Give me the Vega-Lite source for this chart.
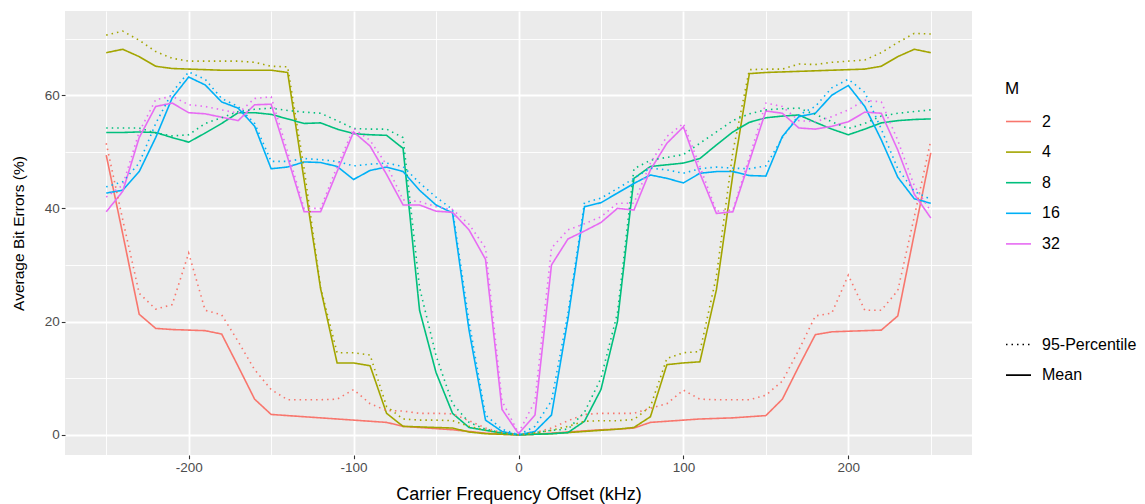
{
  "$schema": "https://vega.github.io/schema/vega-lite/v6.json",
  "width": 907,
  "height": 444,
  "autosize": {"type": "none"},
  "padding": {"left": 65, "top": 11, "right": 173, "bottom": 49},
  "background": "white",
  "data": {"values": [
    {"f":-250,"s":"Mean","2":49.4,"4":67.5,"8":53.4,"16":42.7,"32":39.4},
    {"f":-240,"s":"Mean","2":35.5,"4":68.1,"8":53.4,"16":43.2,"32":43.0},
    {"f":-230,"s":"Mean","2":21.3,"4":66.8,"8":53.5,"16":46.5,"32":52.5},
    {"f":-220,"s":"Mean","2":18.8,"4":65.1,"8":53.4,"16":52.5,"32":58.0},
    {"f":-210,"s":"Mean","2":18.6,"4":64.7,"8":52.5,"16":59.5,"32":58.6},
    {"f":-200,"s":"Mean","2":18.5,"4":64.6,"8":51.7,"16":63.2,"32":56.9},
    {"f":-190,"s":"Mean","2":18.4,"4":64.5,"8":53.3,"16":61.8,"32":56.7},
    {"f":-180,"s":"Mean","2":17.8,"4":64.4,"8":55.0,"16":58.8,"32":56.1},
    {"f":-170,"s":"Mean","2":12.1,"4":64.4,"8":56.9,"16":57.7,"32":55.5},
    {"f":-160,"s":"Mean","2":6.3,"4":64.4,"8":56.9,"16":54.5,"32":58.3},
    {"f":-150,"s":"Mean","2":3.6,"4":64.4,"8":56.6,"16":47.0,"32":58.4},
    {"f":-140,"s":"Mean","2":3.4,"4":64.0,"8":55.8,"16":47.3,"32":49.0},
    {"f":-130,"s":"Mean","2":3.2,"4":45.0,"8":55.0,"16":48.2,"32":39.4},
    {"f":-120,"s":"Mean","2":3.0,"4":25.8,"8":55.1,"16":48.1,"32":39.4},
    {"f":-110,"s":"Mean","2":2.8,"4":12.7,"8":54.0,"16":47.4,"32":46.5},
    {"f":-100,"s":"Mean","2":2.6,"4":12.7,"8":53.2,"16":45.1,"32":53.5},
    {"f":-90,"s":"Mean","2":2.4,"4":12.2,"8":53.0,"16":46.7,"32":51.0},
    {"f":-80,"s":"Mean","2":2.2,"4":3.8,"8":52.9,"16":47.3,"32":46.0},
    {"f":-70,"s":"Mean","2":1.5,"4":1.5,"8":50.6,"16":46.5,"32":40.6},
    {"f":-60,"s":"Mean","2":1.3,"4":1.4,"8":22.0,"16":43.2,"32":40.6},
    {"f":-50,"s":"Mean","2":1.1,"4":1.3,"8":11.0,"16":40.6,"32":39.5},
    {"f":-40,"s":"Mean","2":0.9,"4":1.2,"8":3.8,"16":39.2,"32":39.3},
    {"f":-30,"s":"Mean","2":0.6,"4":0.5,"8":1.3,"16":18.5,"32":36.2},
    {"f":-20,"s":"Mean","2":0.3,"4":0.2,"8":0.8,"16":2.6,"32":31.0},
    {"f":-10,"s":"Mean","2":0.1,"4":0.1,"8":0.3,"16":0.6,"32":4.5},
    {"f":0,"s":"Mean","2":0,"4":0,"8":0,"16":0,"32":0.2},
    {"f":10,"s":"Mean","2":0.1,"4":0.1,"8":0.1,"16":0.6,"32":3.5},
    {"f":20,"s":"Mean","2":0.3,"4":0.2,"8":0.2,"16":3.5,"32":30.0},
    {"f":30,"s":"Mean","2":0.5,"4":0.4,"8":0.4,"16":20.5,"32":34.6},
    {"f":40,"s":"Mean","2":0.7,"4":0.6,"8":2.4,"16":40.3,"32":36.0},
    {"f":50,"s":"Mean","2":0.9,"4":0.8,"8":8.0,"16":41.0,"32":37.5},
    {"f":60,"s":"Mean","2":1.0,"4":1.0,"8":20.0,"16":42.7,"32":40.0},
    {"f":70,"s":"Mean","2":1.2,"4":1.3,"8":45.3,"16":44.4,"32":39.7},
    {"f":80,"s":"Mean","2":2.2,"4":3.2,"8":47.4,"16":45.9,"32":46.8},
    {"f":90,"s":"Mean","2":2.4,"4":12.4,"8":47.7,"16":45.3,"32":51.5},
    {"f":100,"s":"Mean","2":2.6,"4":12.7,"8":48.0,"16":44.5,"32":54.4},
    {"f":110,"s":"Mean","2":2.8,"4":12.9,"8":48.8,"16":46.2,"32":46.2},
    {"f":120,"s":"Mean","2":2.9,"4":25.6,"8":51.2,"16":46.5,"32":39.1},
    {"f":130,"s":"Mean","2":3.0,"4":46.0,"8":53.5,"16":46.5,"32":39.4},
    {"f":140,"s":"Mean","2":3.2,"4":63.8,"8":55.2,"16":45.8,"32":48.3},
    {"f":150,"s":"Mean","2":3.4,"4":64.0,"8":56.0,"16":45.7,"32":57.2},
    {"f":160,"s":"Mean","2":6.3,"4":64.1,"8":56.3,"16":52.7,"32":56.8},
    {"f":170,"s":"Mean","2":12.1,"4":64.2,"8":56.5,"16":56.2,"32":54.2},
    {"f":180,"s":"Mean","2":17.7,"4":64.3,"8":55.2,"16":56.8,"32":54.0},
    {"f":190,"s":"Mean","2":18.2,"4":64.4,"8":54.0,"16":60.0,"32":54.5},
    {"f":200,"s":"Mean","2":18.3,"4":64.5,"8":53.0,"16":61.7,"32":55.3},
    {"f":210,"s":"Mean","2":18.4,"4":64.6,"8":54.0,"16":58.0,"32":57.0},
    {"f":220,"s":"Mean","2":18.5,"4":65.1,"8":55.1,"16":52.1,"32":56.8},
    {"f":230,"s":"Mean","2":21.0,"4":66.8,"8":55.5,"16":45.5,"32":50.3},
    {"f":240,"s":"Mean","2":35.5,"4":68.1,"8":55.7,"16":41.7,"32":42.5},
    {"f":250,"s":"Mean","2":49.8,"4":67.5,"8":55.8,"16":40.9,"32":38.3},
    {"f":-250,"s":"95-Percentile","2":51.5,"4":70.6,"8":54.2,"16":43.8,"32":42.0},
    {"f":-240,"s":"95-Percentile","2":38.0,"4":71.3,"8":54.2,"16":44.7,"32":44.1},
    {"f":-230,"s":"95-Percentile","2":25.0,"4":69.7,"8":54.2,"16":48.0,"32":53.5},
    {"f":-220,"s":"95-Percentile","2":22.2,"4":67.7,"8":53.3,"16":55.0,"32":59.2},
    {"f":-210,"s":"95-Percentile","2":23.0,"4":66.5,"8":52.8,"16":60.5,"32":59.8},
    {"f":-200,"s":"95-Percentile","2":32.1,"4":66.0,"8":53.0,"16":64.1,"32":58.3},
    {"f":-190,"s":"95-Percentile","2":22.0,"4":66.0,"8":55.0,"16":62.8,"32":58.0},
    {"f":-180,"s":"95-Percentile","2":21.2,"4":66.0,"8":56.0,"16":59.4,"32":57.4},
    {"f":-170,"s":"95-Percentile","2":16.5,"4":66.0,"8":57.1,"16":58.0,"32":56.8},
    {"f":-160,"s":"95-Percentile","2":11.5,"4":65.8,"8":57.5,"16":55.0,"32":59.4},
    {"f":-150,"s":"95-Percentile","2":8.0,"4":65.1,"8":57.7,"16":48.3,"32":59.7},
    {"f":-140,"s":"95-Percentile","2":6.2,"4":65.0,"8":57.3,"16":48.3,"32":50.0},
    {"f":-130,"s":"95-Percentile","2":6.2,"4":47.0,"8":57.0,"16":48.8,"32":40.0},
    {"f":-120,"s":"95-Percentile","2":6.2,"4":26.0,"8":56.8,"16":48.6,"32":40.0},
    {"f":-110,"s":"95-Percentile","2":6.3,"4":14.5,"8":55.5,"16":48.3,"32":47.4},
    {"f":-100,"s":"95-Percentile","2":8.0,"4":14.5,"8":54.1,"16":47.5,"32":54.1},
    {"f":-90,"s":"95-Percentile","2":5.5,"4":14.1,"8":54.0,"16":47.8,"32":52.0},
    {"f":-80,"s":"95-Percentile","2":4.3,"4":5.0,"8":54.0,"16":48.0,"32":47.7},
    {"f":-70,"s":"95-Percentile","2":4.2,"4":2.8,"8":52.5,"16":47.4,"32":41.5},
    {"f":-60,"s":"95-Percentile","2":3.8,"4":2.6,"8":26.0,"16":44.5,"32":41.2},
    {"f":-50,"s":"95-Percentile","2":3.8,"4":2.6,"8":14.0,"16":42.0,"32":40.3},
    {"f":-40,"s":"95-Percentile","2":3.7,"4":2.5,"8":5.5,"16":39.8,"32":39.8},
    {"f":-30,"s":"95-Percentile","2":2.5,"4":1.5,"8":2.2,"16":20.0,"32":37.2},
    {"f":-20,"s":"95-Percentile","2":1.2,"4":0.8,"8":1.0,"16":3.5,"32":33.0},
    {"f":-10,"s":"95-Percentile","2":0.4,"4":0.3,"8":0.4,"16":1.0,"32":6.0},
    {"f":0,"s":"95-Percentile","2":0,"4":0,"8":0,"16":0,"32":0.3},
    {"f":10,"s":"95-Percentile","2":0.4,"4":0.3,"8":0.4,"16":1.5,"32":6.0},
    {"f":20,"s":"95-Percentile","2":1.2,"4":0.8,"8":0.8,"16":6.0,"32":33.0},
    {"f":30,"s":"95-Percentile","2":2.5,"4":1.5,"8":1.0,"16":21.5,"32":36.2},
    {"f":40,"s":"95-Percentile","2":3.6,"4":2.4,"8":4.0,"16":41.0,"32":37.3},
    {"f":50,"s":"95-Percentile","2":3.8,"4":2.5,"8":10.0,"16":41.8,"32":38.5},
    {"f":60,"s":"95-Percentile","2":3.8,"4":2.5,"8":21.5,"16":43.5,"32":40.9},
    {"f":70,"s":"95-Percentile","2":3.8,"4":2.7,"8":47.0,"16":45.3,"32":40.9},
    {"f":80,"s":"95-Percentile","2":4.7,"4":5.0,"8":48.5,"16":47.1,"32":48.0},
    {"f":90,"s":"95-Percentile","2":5.5,"4":13.5,"8":49.0,"16":46.8,"32":52.7},
    {"f":100,"s":"95-Percentile","2":7.9,"4":14.5,"8":49.5,"16":46.2,"32":55.0},
    {"f":110,"s":"95-Percentile","2":6.3,"4":14.7,"8":51.5,"16":47.0,"32":47.4},
    {"f":120,"s":"95-Percentile","2":6.2,"4":28.0,"8":53.5,"16":47.3,"32":39.5},
    {"f":130,"s":"95-Percentile","2":6.2,"4":50.0,"8":55.5,"16":47.1,"32":39.7},
    {"f":140,"s":"95-Percentile","2":6.2,"4":64.5,"8":56.7,"16":47.0,"32":49.0},
    {"f":150,"s":"95-Percentile","2":7.0,"4":64.6,"8":57.4,"16":47.5,"32":58.6},
    {"f":160,"s":"95-Percentile","2":9.5,"4":64.6,"8":57.6,"16":52.5,"32":58.0},
    {"f":170,"s":"95-Percentile","2":15.0,"4":65.5,"8":57.7,"16":56.5,"32":55.5},
    {"f":180,"s":"95-Percentile","2":21.0,"4":65.4,"8":56.6,"16":58.0,"32":55.3},
    {"f":190,"s":"95-Percentile","2":21.5,"4":65.8,"8":55.3,"16":61.3,"32":56.2},
    {"f":200,"s":"95-Percentile","2":28.2,"4":66.0,"8":54.1,"16":62.8,"32":57.4},
    {"f":210,"s":"95-Percentile","2":22.0,"4":66.2,"8":55.0,"16":60.5,"32":59.1},
    {"f":220,"s":"95-Percentile","2":22.0,"4":67.5,"8":56.3,"16":54.0,"32":58.8},
    {"f":230,"s":"95-Percentile","2":25.5,"4":69.3,"8":56.8,"16":47.0,"32":52.0},
    {"f":240,"s":"95-Percentile","2":38.5,"4":70.9,"8":57.1,"16":43.0,"32":44.0},
    {"f":250,"s":"95-Percentile","2":52.0,"4":70.8,"8":57.4,"16":41.6,"32":39.5}
  ]},
  "transform": [{"fold": ["2", "4", "8", "16", "32"], "as": ["M", "v"]}],
  "mark": {"type": "line", "strokeWidth": 1.6, "clip": true},
  "encoding": {
    "x": {
      "field": "f", "type": "quantitative",
      "scale": {"domain": [-275, 275], "nice": false, "zero": false},
      "axis": {
        "title": "Carrier Frequency Offset (kHz)",
        "values": [-250, -200, -150, -100, -50, 0, 50, 100, 150, 200, 250],
        "labelExpr": "datum.value % 100 === 0 ? '' + datum.value : ''",
        "tickColor": {"condition": {"test": "datum.value % 100 === 0", "value": "#333333"}, "value": "transparent"},
        "gridWidth": {"condition": {"test": "datum.value % 100 === 0", "value": 1.8}, "value": 0.9},
        "titleFontSize": 18,
        "titlePadding": 11
      }
    },
    "y": {
      "field": "v", "type": "quantitative",
      "scale": {"domain": [-3.56, 74.86], "nice": false, "zero": false},
      "axis": {
        "title": "Average Bit Errors (%)",
        "values": [0, 10, 20, 30, 40, 50, 60, 70],
        "labelExpr": "datum.value % 20 === 0 ? '' + datum.value : ''",
        "tickColor": {"condition": {"test": "datum.value % 20 === 0", "value": "#333333"}, "value": "transparent"},
        "gridWidth": {"condition": {"test": "datum.value % 20 === 0", "value": 1.8}, "value": 0.9},
        "titleFontSize": 15.5,
        "titlePadding": 18
      }
    },
    "color": {
      "field": "M", "type": "nominal",
      "scale": {"domain": ["2", "4", "8", "16", "32"], "range": ["#F8766D", "#A3A500", "#00BF7D", "#00B0F6", "#E76BF3"]},
      "legend": {
        "title": "M", "orient": "none", "legendX": 940, "legendY": 70,
        "symbolType": "stroke", "symbolSize": 625, "symbolStrokeWidth": 1.6,
        "labelOffset": 10, "rowPadding": 8.6, "titlePadding": 10, "padding": 0
      }
    },
    "strokeDash": {
      "field": "s", "type": "nominal",
      "scale": {"domain": ["95-Percentile", "Mean"], "range": [[1.5, 4], [1, 0]]},
      "legend": {
        "title": null, "orient": "none", "legendX": 940, "legendY": 320,
        "symbolType": "stroke", "symbolSize": 625, "symbolStrokeWidth": 1.6,
        "symbolStrokeColor": "#000000",
        "labelOffset": 10, "rowPadding": 8.6, "padding": 0
      }
    }
  },
  "config": {
    "font": "Liberation Sans",
    "view": {"fill": "#EBEBEB", "stroke": null},
    "axis": {
      "domain": false, "grid": true, "gridColor": "#FFFFFF",
      "tickSize": 3.7, "tickWidth": 1.1,
      "labelFont": "Liberation Sans", "labelFontSize": 13.5, "labelColor": "#4D4D4D", "labelPadding": 2,
      "titleFont": "Liberation Sans", "titleColor": "#000000", "titleFontWeight": "normal"
    },
    "legend": {
      "labelFont": "Liberation Sans", "labelFontSize": 16, "labelColor": "#000000",
      "titleFont": "Liberation Sans", "titleFontSize": 17, "titleColor": "#000000", "titleFontWeight": "normal"
    }
  }
}
